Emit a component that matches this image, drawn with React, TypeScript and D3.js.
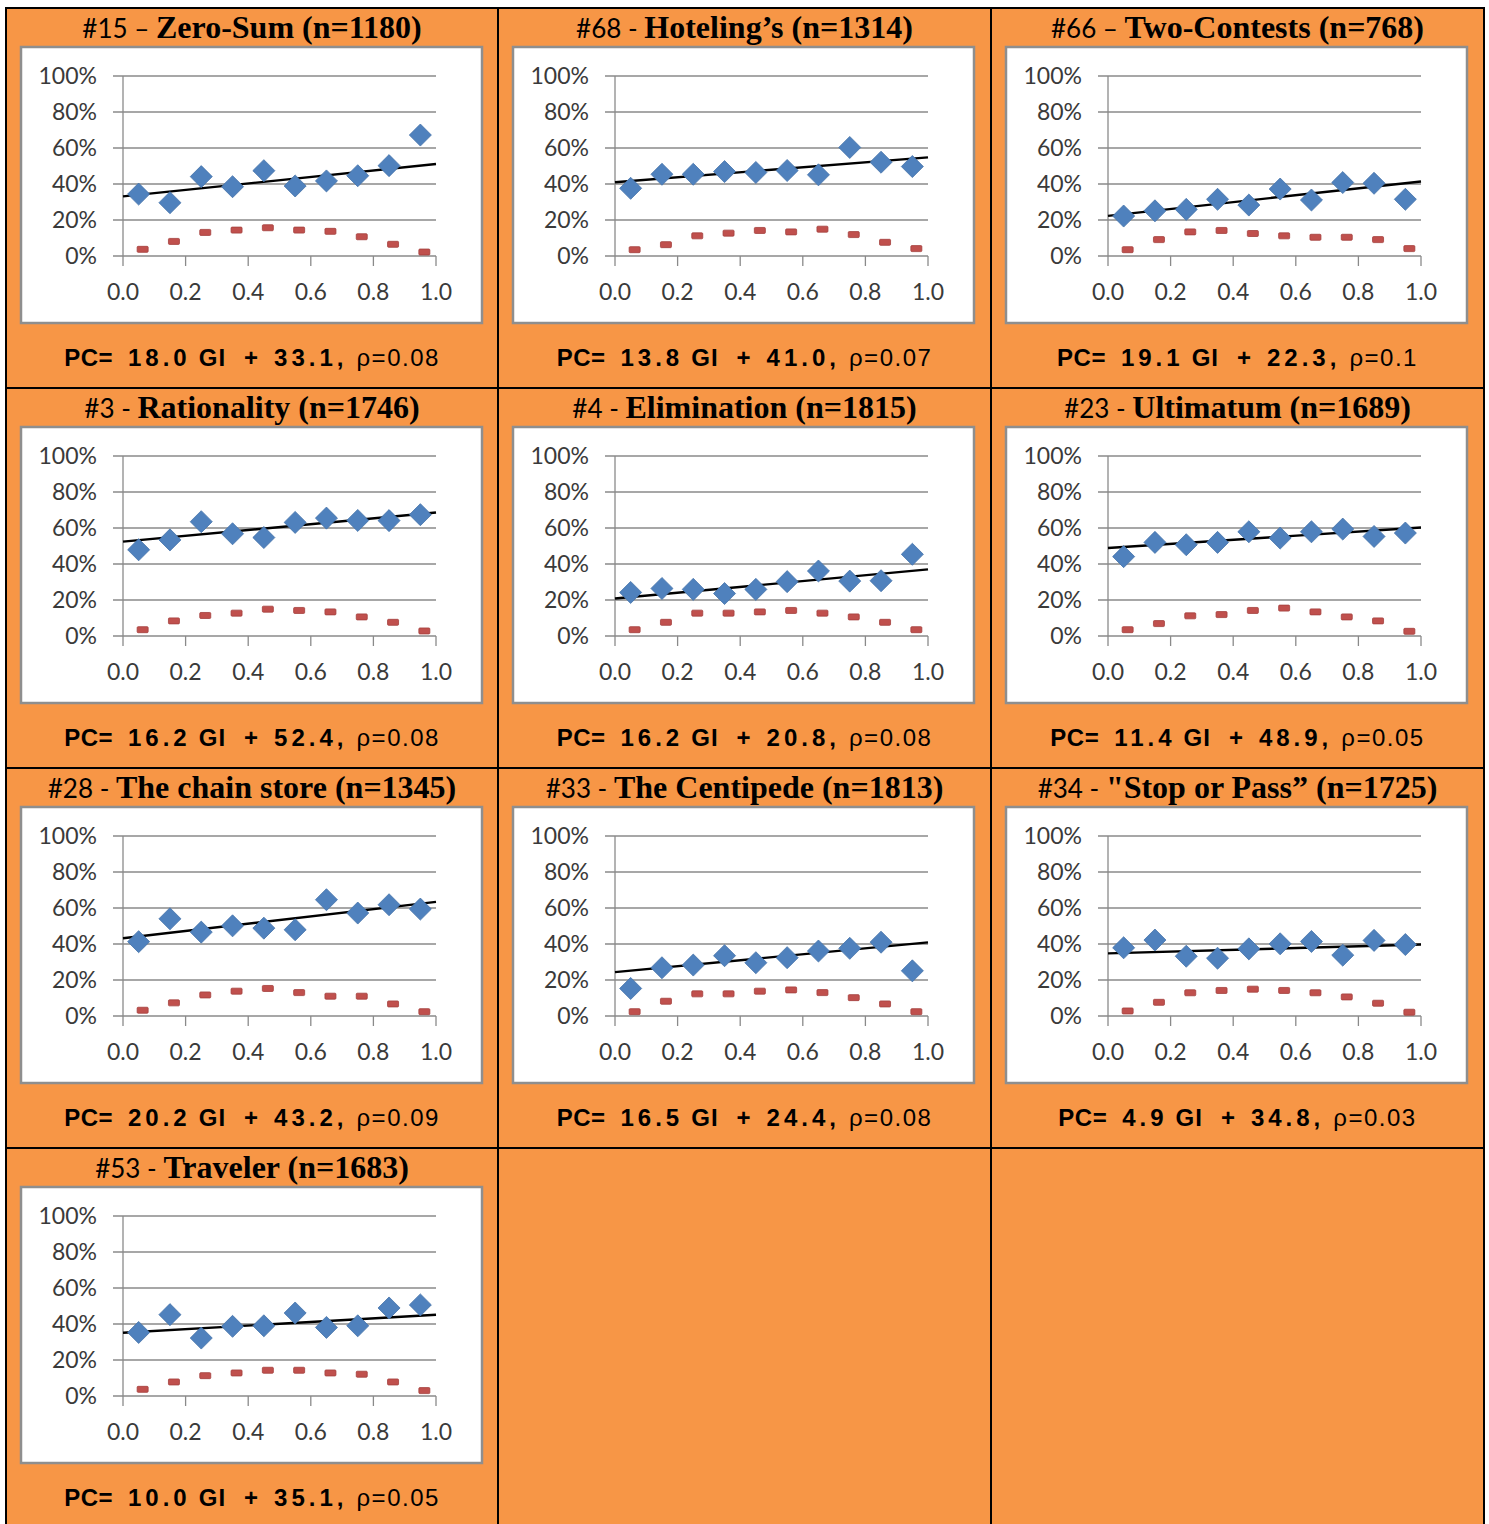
import React from "react";
import * as d3 from "d3";

// ---------- data ----------
const giBins = [0.05, 0.15, 0.25, 0.35, 0.45, 0.55, 0.65, 0.75, 0.85, 0.95];
const yTicks = [0, 20, 40, 60, 80, 100];
const xTicks = [0, 0.2, 0.4, 0.6, 0.8, 1.0];

const titleIds = ["#15 – ", "#68 - ", "#66 – ", "#3 - ", "#4 - ", "#23 - ", "#28 - ", "#33 - ", "#34 - ", "#53 - "];
const titleNames = [
  "Zero-Sum (n=1180)",
  "Hoteling’s (n=1314)",
  "Two-Contests (n=768)",
  "Rationality (n=1746)",
  "Elimination (n=1815)",
  "Ultimatum (n=1689)",
  "The chain store (n=1345)",
  "The Centipede (n=1813)",
  "\"Stop or Pass” (n=1725)",
  "Traveler (n=1683)",
];
const slopes = [18.0, 13.8, 19.1, 16.2, 16.2, 11.4, 20.2, 16.5, 4.9, 10.0];
const intercepts = [33.1, 41.0, 22.3, 52.4, 20.8, 48.9, 43.2, 24.4, 34.8, 35.1];
const rhos = ["0.08", "0.07", "0.1", "0.08", "0.08", "0.05", "0.09", "0.08", "0.03", "0.05"];

// blue diamonds: percent correct per GI bin
const pcZeroSum = [34.4, 29.6, 44.1, 38.5, 47.4, 38.9, 41.7, 44.6, 50.2, 67.2];
const pcHoteling = [37.6, 45.4, 45.4, 46.9, 46.4, 47.5, 45.1, 60.3, 52.1, 49.7];
const pcTwoContests = [22.2, 25.1, 25.9, 31.5, 28.3, 37.2, 31.1, 40.8, 40.4, 31.5];
const pcRationality = [47.9, 53.4, 63.5, 56.8, 54.7, 63.1, 65.5, 64.2, 64.1, 67.4];
const pcElimination = [24.2, 26.4, 25.9, 23.6, 25.9, 30.2, 36.1, 30.5, 30.7, 45.4];
const pcUltimatum = [44.1, 52.0, 50.7, 52.0, 57.9, 54.4, 57.9, 59.4, 55.3, 57.2];
const pcChainStore = [41.3, 54.0, 46.6, 50.1, 48.8, 47.9, 64.6, 57.2, 61.8, 59.4];
const pcCentipede = [15.3, 26.8, 28.3, 33.5, 29.6, 32.4, 36.1, 37.6, 41.0, 25.1];
const pcStopOrPass = [37.9, 42.2, 33.2, 32.1, 37.3, 40.1, 41.4, 33.8, 42.0, 39.7];
const pcTraveler = [35.3, 45.2, 32.2, 38.7, 39.0, 46.1, 38.1, 39.0, 48.9, 50.6];

// red dashes: share of players per GI bin
const shareZeroSum = [3.7, 8.1, 13.1, 14.4, 15.7, 14.4, 13.7, 10.7, 6.5, 2.2];
const shareHoteling = [3.5, 6.3, 11.2, 12.7, 14.2, 13.4, 14.9, 11.9, 7.6, 4.1];
const shareTwoContests = [3.5, 9.1, 13.4, 14.2, 12.5, 11.2, 10.4, 10.4, 9.1, 4.1];
const shareRationality = [3.5, 8.4, 11.4, 12.7, 14.9, 14.2, 13.4, 10.6, 7.6, 2.8];
const shareElimination = [3.5, 7.6, 12.7, 12.7, 13.4, 14.2, 12.7, 10.6, 7.6, 3.5];
const shareUltimatum = [3.5, 6.9, 11.2, 11.9, 14.2, 15.5, 13.4, 10.6, 8.4, 2.6];
const shareChainStore = [3.2, 7.3, 11.7, 13.8, 15.3, 13.0, 11.0, 11.0, 6.7, 2.4];
const shareCentipede = [2.4, 8.2, 12.3, 12.3, 13.8, 14.5, 13.0, 10.2, 6.7, 2.4];
const shareStopOrPass = [2.8, 7.6, 12.9, 14.2, 14.9, 14.2, 12.9, 10.6, 7.1, 2.1];
const shareTraveler = [3.7, 7.8, 11.3, 12.8, 14.3, 14.3, 12.8, 12.1, 7.8, 3.0];

const pcSeries = [pcZeroSum, pcHoteling, pcTwoContests, pcRationality, pcElimination, pcUltimatum, pcChainStore, pcCentipede, pcStopOrPass, pcTraveler];
const shareSeries = [shareZeroSum, shareHoteling, shareTwoContests, shareRationality, shareElimination, shareUltimatum, shareChainStore, shareCentipede, shareStopOrPass, shareTraveler];

// ---------- layout ----------
const W = 1489;
const H = 1524;
const colEdges = [6, 498, 991, 1484];
const rowEdges = [8, 388, 768, 1148, 1530];
const ORANGE = "#F79646";
const BLUE = "#4F81BD";
const RED = "#C0504D";
const SANS = "Lato, 'Open Sans', sans-serif";

const x = d3.scaleLinear().domain([0, 1]).range([117, 430]);
const y = d3.scaleLinear().domain([0, 100]).range([248, 68]);
const diamond = d3.symbol().type(d3.symbolDiamond2).size(310)();

function Panel({ i }: { i: number }) {
  const col = i % 3;
  const row = Math.floor(i / 3);
  const ox = colEdges[col];
  const oy = rowEdges[row];
  const cw = colEdges[col + 1] - colEdges[col];
  const cx = cw / 2;
  const a = slopes[i];
  const b = intercepts[i];
  const lineGen = d3.line<number>().x((g) => x(g)).y((g) => y(a * g + b));
  return (
    <g transform={`translate(${ox},${oy})`}>
      <text x={cx} y={30} textAnchor="middle" fill="#000">
        <tspan fontFamily={SANS} fontSize={26}>{titleIds[i]}</tspan>
        <tspan fontFamily="'Liberation Serif', 'Times New Roman', serif" fontWeight="bold" fontSize={32}>{titleNames[i]}</tspan>
      </text>
      <rect x={15} y={39} width={461} height={276} fill="#fff" stroke="#8e8e8e" strokeWidth={2.5} />
      {yTicks.map((t) => (
        <line key={"g" + t} x1={107} x2={x(1)} y1={y(t)} y2={y(t)} stroke="#8a8a8a" strokeWidth={1.3} />
      ))}
      <line x1={x(0)} x2={x(0)} y1={y(100)} y2={y(0) + 10} stroke="#8a8a8a" strokeWidth={1.3} />
      {xTicks.slice(1).map((t) => (
        <line key={"t" + t} x1={x(t)} x2={x(t)} y1={y(0)} y2={y(0) + 10} stroke="#8a8a8a" strokeWidth={1.3} />
      ))}
      {yTicks.map((t) => (
        <text key={"yl" + t} x={91} y={y(t)} dy="0.36em" textAnchor="end" fontFamily={SANS} fontSize={23} fill="#3a3a3a">
          {t + "%"}
        </text>
      ))}
      {xTicks.map((t) => (
        <text key={"xl" + t} x={x(t)} y={292} textAnchor="middle" fontFamily={SANS} fontSize={23} fill="#3a3a3a">
          {t.toFixed(1)}
        </text>
      ))}
      {shareSeries[i].map((v, k) => (
        <rect key={"r" + k} x={x(giBins[k]) + 4 - 5.5} y={y(v) - 3} width={11} height={6} rx={1} fill={RED} stroke="#a33f3c" strokeWidth={0.8} />
      ))}
      <path d={lineGen([0, 1]) || ""} stroke="#000" strokeWidth={2.4} fill="none" />
      {pcSeries[i].map((v, k) => (
        <path key={"d" + k} d={diamond || ""} transform={`translate(${x(giBins[k])},${y(v)})`} fill={BLUE} stroke="#4673aa" strokeWidth={0.8} />
      ))}
      <text x={cx} y={358} textAnchor="middle" fontFamily="'Liberation Sans', Arial, sans-serif" fontSize={24} fill="#000">
        <tspan fontWeight="bold" letterSpacing={0.5}>PC=</tspan>
        <tspan dx={15} fontWeight="bold" letterSpacing={4}>{a.toFixed(1)}</tspan>
        <tspan dx={8} fontWeight="bold" letterSpacing={1}>GI</tspan>
        <tspan dx={18} fontWeight="bold">+</tspan>
        <tspan dx={16} fontWeight="bold" letterSpacing={4}>{`${b.toFixed(1)},`}</tspan>
        <tspan dx={9} letterSpacing={1.5}>{`ρ=${rhos[i]}`}</tspan>
      </text>
    </g>
  );
}

export default function App() {
  return (
    <svg width={W} height={H} style={{ position: "absolute", left: 0, top: 0, background: "#fff" }}>
      <rect x={colEdges[0]} y={rowEdges[0]} width={colEdges[3] - colEdges[0]} height={rowEdges[4] - rowEdges[0]} fill={ORANGE} stroke="#000" strokeWidth={2} />
      {colEdges.slice(1, 3).map((cxE) => (
        <line key={"c" + cxE} x1={cxE} x2={cxE} y1={rowEdges[0]} y2={H} stroke="#000" strokeWidth={2} />
      ))}
      {rowEdges.slice(1, 4).map((ry) => (
        <line key={"r" + ry} x1={colEdges[0]} x2={colEdges[3]} y1={ry} y2={ry} stroke="#000" strokeWidth={2} />
      ))}
      {pcSeries.map((_, i) => (
        <Panel key={i} i={i} />
      ))}
    </svg>
  );
}
